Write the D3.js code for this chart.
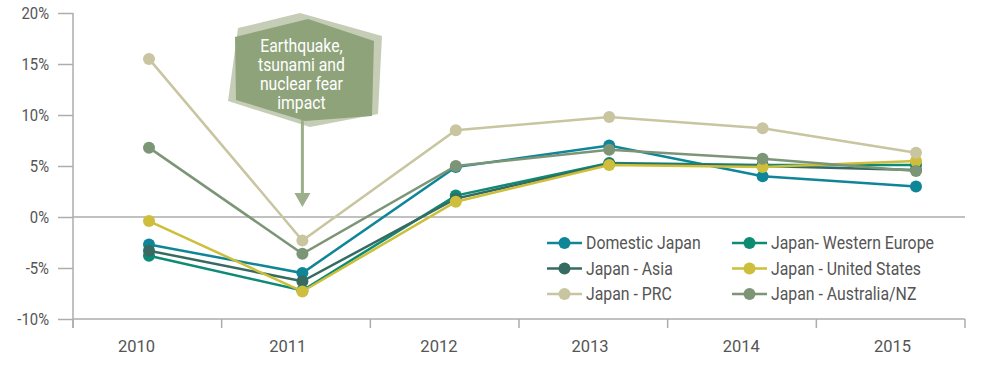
<!DOCTYPE html>
<html>
<head>
<meta charset="utf-8">
<script src="https://cdn.jsdelivr.net/npm/d3@7"></script>
<style>
  body { margin: 0; background: #fff; }
  #chart { width: 981px; height: 365px; }
  text { font-family: Roboto, "Noto Sans", sans-serif; }
</style>
</head>
<body>
<div id="chart"></div>
<script>
var years = ["2010", "2011", "2012", "2013", "2014", "2015"];
var yTicks = [-10, -5, 0, 5, 10, 15, 20];

var seriesNames = ["Domestic Japan", "Japan- Western Europe", "Japan - Asia",
                   "Japan - United States", "Japan - PRC", "Japan - Australia/NZ"];
var seriesColors = ["#0e8698", "#0d8b74", "#356b60", "#cdbe3b", "#c8c5a0", "#7d9577"];

var domestic  = [-2.7, -5.5, 4.9, 7.0, 4.0, 3.0];
var westEurope = [-3.8, -7.2, 2.1, 5.3, 5.1, 5.1];
var asia      = [-3.3, -6.3, 1.8, 5.2, 5.0, 4.6];
var usa       = [-0.4, -7.3, 1.5, 5.1, 4.9, 5.5];
var prc       = [15.5, -2.3, 8.5, 9.8, 8.7, 6.3];
var ausNz     = [6.8, -3.6, 5.0, 6.6, 5.7, 4.5];

var seriesValues = [domestic, westEurope, asia, usa, prc, ausNz];

var calloutLines = ["Earthquake,", "tsunami and", "nuclear fear", "impact"];
var calloutYear = "2011";

var chart = document.getElementById("chart");
var svg = d3.select(chart).append("svg")
    .attr("width", 981)
    .attr("height", 365);

var axisColor = "#adadad";
var textColor = "#555";

var y = d3.scaleLinear().domain([-10, 20]).range([319, 13]);
var xBand = d3.scaleBand().domain(years).range([73, 965]);
var xPoint = d3.scalePoint().domain(years).range([149, 916]);
var xLabel = d3.scalePoint().domain(years).range([136, 892]);

// y axis
var yAxis = svg.append("g")
    .attr("transform", "translate(73,0)")
    .call(d3.axisLeft(y).tickValues(yTicks).tickSize(15).tickPadding(6)
      .tickFormat(function(d) { return d + "%"; }));
yAxis.select(".domain").remove();
yAxis.selectAll(".tick line").attr("stroke", axisColor).attr("stroke-width", 1.5);
yAxis.selectAll(".tick text")
    .attr("fill", textColor)
    .style("font-size", "16.5px")
    .attr("x", -24 / 0.9)
    .attr("transform", "scale(0.9,1)");
svg.append("line")
    .attr("x1", 73).attr("x2", 73)
    .attr("y1", y(20)).attr("y2", 328)
    .attr("stroke", axisColor).attr("stroke-width", 1.5);

// zero line and bottom line
[0, -10].forEach(function(v) {
  svg.append("line")
      .attr("x1", 73).attr("x2", 965)
      .attr("y1", y(v)).attr("y2", y(v))
      .attr("stroke", axisColor).attr("stroke-width", 1.5);
});

// category separators
var bounds = years.map(function(d) { return xBand(d); }).concat([xBand.range()[1]]);
svg.append("g").selectAll("line")
    .data(bounds)
    .enter().append("line")
    .attr("x1", function(d) { return d; })
    .attr("x2", function(d) { return d; })
    .attr("y1", y(-10)).attr("y2", 328)
    .attr("stroke", axisColor).attr("stroke-width", 1.5);

// x labels
var xAxis = svg.append("g")
    .attr("transform", "translate(0," + y(-10) + ")")
    .call(d3.axisBottom(xLabel).tickSize(0).tickPadding(21));
xAxis.select(".domain").remove();
xAxis.selectAll(".tick text")
    .attr("fill", textColor)
    .style("font-size", "16.5px");

// callout
var shadowPts = [[300, 13], [382, 36], [378, 114], [310, 127], [228, 101], [238, 28]];
var mainPts = [[308, 19], [374, 41], [372, 116], [305, 121], [236, 100], [235, 37]];
svg.append("polygon")
    .attr("points", shadowPts.map(function(p) { return p.join(","); }).join(" "))
    .attr("fill", "#c6cdb7");
svg.append("polygon")
    .attr("points", mainPts.map(function(p) { return p.join(","); }).join(" "))
    .attr("fill", "#8fa37b");

var ax = xPoint(calloutYear);
svg.append("line")
    .attr("x1", ax).attr("x2", ax)
    .attr("y1", 120).attr("y2", 195)
    .attr("stroke", "#9dae8a").attr("stroke-width", 3);
svg.append("path")
    .attr("d", "M" + (ax - 8) + ",193L" + (ax + 8) + ",193L" + ax + ",207Z")
    .attr("fill", "#9dae8a");

svg.append("g").selectAll("text")
    .data(calloutLines)
    .enter().append("text")
    .attr("transform", function(d, i) {
      return "translate(" + (ax - 1) + "," + (52 + i * 19) + ") scale(0.9,1)";
    })
    .attr("text-anchor", "middle")
    .attr("fill", "#fff")
    .style("font-size", "17.5px")
    .text(function(d) { return d; });

// series
var line = d3.line()
    .x(function(d, i) { return xPoint(years[i]); })
    .y(function(d) { return y(d); });

seriesValues.forEach(function(vals, s) {
  var g = svg.append("g");
  g.append("path")
      .attr("d", line(vals))
      .attr("fill", "none")
      .attr("stroke", seriesColors[s])
      .attr("stroke-width", 2.5);
  g.selectAll("circle")
      .data(vals)
      .enter().append("circle")
      .attr("cx", function(d, i) { return xPoint(years[i]); })
      .attr("cy", function(d) { return y(d); })
      .attr("r", 6)
      .attr("fill", seriesColors[s]);
});

// legend
var legend = svg.append("g").selectAll("g")
    .data(seriesNames)
    .enter().append("g")
    .attr("transform", function(d, i) {
      return "translate(" + (i % 2 === 0 ? 547 : 732) + "," + (243 + Math.floor(i / 2) * 25.5) + ")";
    });
legend.append("line")
    .attr("x1", 0).attr("x2", 35)
    .attr("stroke", function(d, i) { return seriesColors[i]; })
    .attr("stroke-width", 2.5);
legend.append("circle")
    .attr("cx", 17.5).attr("r", 6)
    .attr("fill", function(d, i) { return seriesColors[i]; });
legend.append("text")
    .attr("transform", "translate(39,0) scale(0.88,1)")
    .attr("dy", "0.36em")
    .attr("fill", textColor)
    .style("font-size", "18px")
    .text(function(d) { return d; });
</script>
</body>
</html>
